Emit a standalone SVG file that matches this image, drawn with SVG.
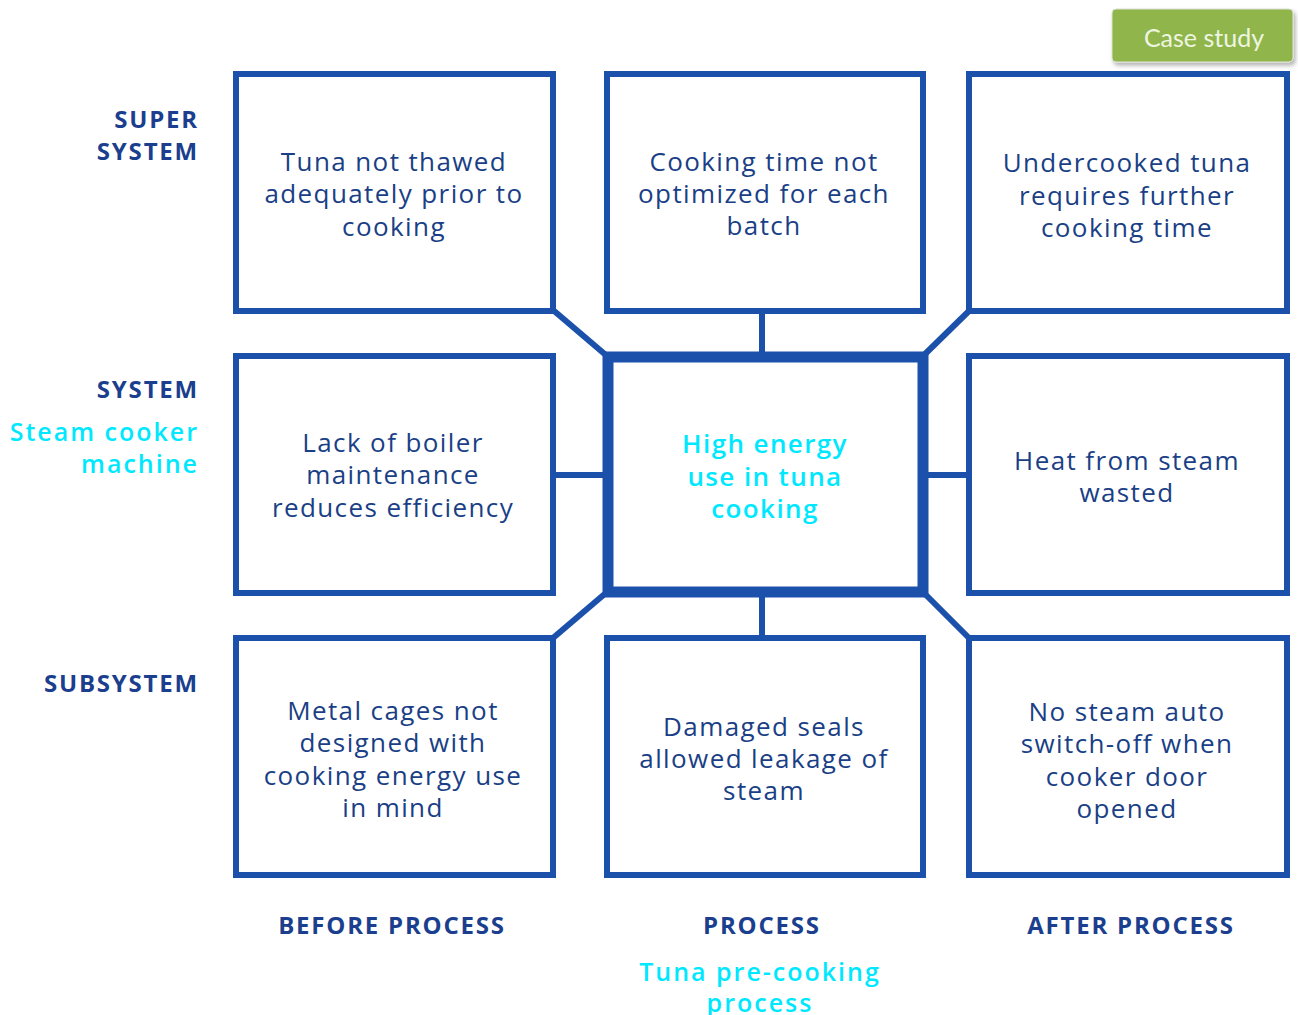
<svg xmlns="http://www.w3.org/2000/svg" width="1298" height="1015" viewBox="0 0 1298 1015">
<defs>
<style>
.box{fill:#fff;stroke:#1b50ab;stroke-width:6}
.core{fill:#fff;stroke:#1b50ab;stroke-width:11}
.con{stroke:#1b50ab;stroke-width:6;fill:none}
.t{font-family:"Open Sans","Liberation Sans",sans-serif;font-size:26px;fill:#1a3f86;text-anchor:middle;dominant-baseline:central;letter-spacing:1.4px}
.c{font-family:"Open Sans","Liberation Sans",sans-serif;font-size:26px;fill:#00e8ff;font-weight:600;text-anchor:middle;dominant-baseline:central;letter-spacing:1.4px}
.lab{font-family:"Open Sans","Liberation Sans",sans-serif;font-size:24px;fill:#1b3f8e;font-weight:700;dominant-baseline:central;letter-spacing:1.8px}
.cy{font-family:"Open Sans","Liberation Sans",sans-serif;font-size:25px;fill:#00e8ff;font-weight:600;dominant-baseline:central;letter-spacing:2px}
</style>
<filter id="sh" x="-10%" y="-20%" width="130%" height="160%"><feDropShadow dx="2" dy="3" stdDeviation="2" flood-color="#000" flood-opacity="0.3"/></filter>
</defs>
<rect width="1298" height="1015" fill="#fff"/>
<g id="connectors">
<line class="con" x1="553" y1="310" x2="607" y2="356"/>
<line class="con" x1="762" y1="311" x2="762" y2="356"/>
<line class="con" x1="923" y1="356" x2="969" y2="311"/>
<line class="con" x1="553" y1="475" x2="608" y2="475"/>
<line class="con" x1="923" y1="475" x2="969" y2="475"/>
<line class="con" x1="607" y1="592" x2="553" y2="638"/>
<line class="con" x1="762" y1="592" x2="762" y2="638"/>
<line class="con" x1="923" y1="592" x2="969" y2="638"/>
</g>
<g id="casestudy">
<rect x="1112" y="9" width="181" height="53" rx="4" fill="#8fb54b" stroke="#dde3d6" stroke-width="1" filter="url(#sh)"/>
<text x="1204" y="37" font-family="Lato,'Liberation Sans',sans-serif" font-size="25" fill="#eef5e0" text-anchor="middle" dominant-baseline="central">Case study</text>
</g>
<g id="n1"><rect class="box" x="236" y="74" width="317" height="237"/>
<text class="t" x="394" y="161">Tuna not thawed</text><text class="t" x="394" y="193">adequately prior to</text><text class="t" x="394" y="226">cooking</text></g>
<g id="n2"><rect class="box" x="607" y="74" width="316" height="237"/>
<text class="t" x="764" y="161">Cooking time not</text><text class="t" x="764" y="193">optimized for each</text><text class="t" x="764" y="225">batch</text></g>
<g id="n3"><rect class="box" x="969" y="74" width="318" height="237"/>
<text class="t" x="1127" y="162">Undercooked tuna</text><text class="t" x="1127" y="195">requires further</text><text class="t" x="1127" y="227">cooking time</text></g>
<g id="n4"><rect class="box" x="236" y="356" width="317" height="237"/>
<text class="t" x="393" y="442">Lack of boiler</text><text class="t" x="393" y="474">maintenance</text><text class="t" x="393" y="507">reduces efficiency</text></g>
<g id="n5"><rect class="core" x="608" y="357" width="315" height="235"/>
<text class="c" x="765" y="443">High energy</text><text class="c" x="765" y="476">use in tuna</text><text class="c" x="765" y="508">cooking</text></g>
<g id="n6"><rect class="box" x="969" y="356" width="318" height="237"/>
<text class="t" x="1127" y="460">Heat from steam</text><text class="t" x="1127" y="492">wasted</text></g>
<g id="n7"><rect class="box" x="236" y="638" width="317" height="237"/>
<text class="t" x="393" y="710">Metal cages not</text><text class="t" x="393" y="742">designed with</text><text class="t" x="393" y="775">cooking energy use</text><text class="t" x="393" y="807">in mind</text></g>
<g id="n8"><rect class="box" x="607" y="638" width="316" height="237"/>
<text class="t" x="764" y="726">Damaged seals</text><text class="t" x="764" y="758">allowed leakage of</text><text class="t" x="764" y="790">steam</text></g>
<g id="n9"><rect class="box" x="969" y="638" width="318" height="237"/>
<text class="t" x="1127" y="711">No steam auto</text><text class="t" x="1127" y="743">switch-off when</text><text class="t" x="1127" y="776">cooker door</text><text class="t" x="1127" y="808">opened</text></g>
<g id="labels">
<text class="lab" x="199" y="118" text-anchor="end">SUPER</text>
<text class="lab" x="199" y="150" text-anchor="end">SYSTEM</text>
<text class="lab" x="199" y="388" text-anchor="end">SYSTEM</text>
<text class="cy" x="199" y="431" text-anchor="end">Steam cooker</text>
<text class="cy" x="199" y="463" text-anchor="end">machine</text>
<text class="lab" x="199" y="682" text-anchor="end">SUBSYSTEM</text>
<text class="lab" x="392" y="924" text-anchor="middle">BEFORE PROCESS</text>
<text class="lab" x="762" y="924" text-anchor="middle">PROCESS</text>
<text class="lab" x="1131" y="924" text-anchor="middle">AFTER PROCESS</text>
<text class="cy" x="760" y="971" text-anchor="middle">Tuna pre-cooking</text>
<text class="cy" x="760" y="1002" text-anchor="middle">process</text>
</g>
</svg>
